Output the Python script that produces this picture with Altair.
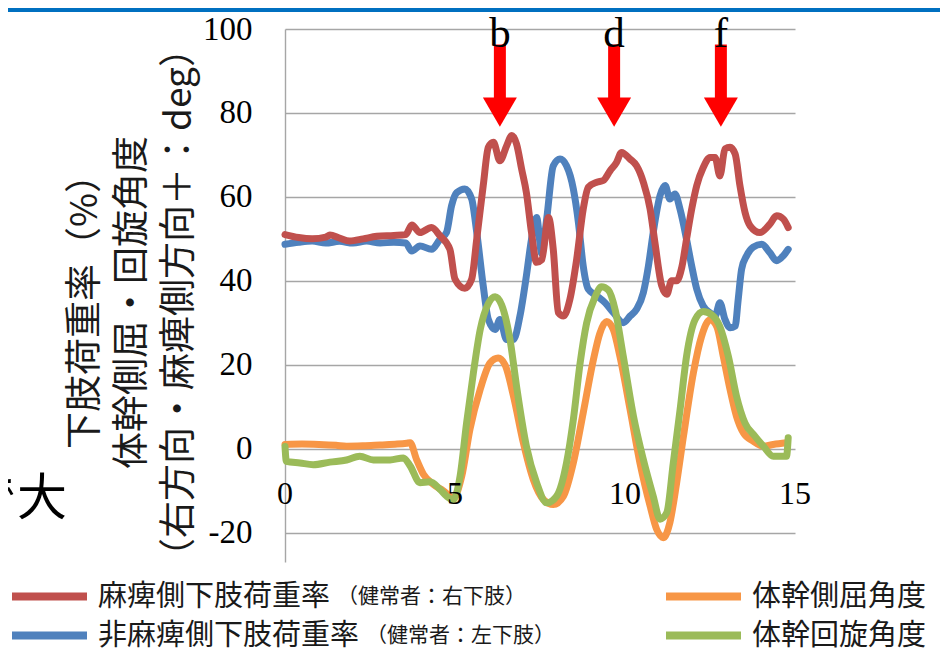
import altair as alt
import pandas as pd

# ---------------- data ----------------
red_x = [0.0, 0.4, 0.8, 1.2, 1.32, 1.6, 1.9, 2.3, 2.7, 3.2, 3.55, 3.73, 3.97, 4.31, 4.56, 4.85,
         5.0, 5.29, 5.49, 5.64, 5.83, 5.98, 6.13, 6.32, 6.52, 6.67, 6.81, 6.96, 7.1, 7.25, 7.4,
         7.55, 7.75, 7.89, 8.04, 8.19, 8.38, 8.58, 8.77, 8.92, 9.17, 9.36, 9.56, 9.75, 9.9,
         10.15, 10.34, 10.54, 10.74, 10.88, 11.08, 11.23, 11.37, 11.52, 11.67, 11.81, 11.96,
         12.11, 12.3, 12.5, 12.65, 12.79, 12.94, 13.09, 13.24, 13.38, 13.53, 13.68, 13.97,
         14.26, 14.46, 14.66, 14.8]
red_y = [51.0, 50.3, 50.0, 50.4, 50.9, 50.2, 49.5, 50.0, 50.6, 50.8, 51.0, 53.3, 51.5, 52.7, 50.7, 47.5,
         40.4, 38.2, 40.4, 50.0, 62.7, 71.8, 73.0, 68.6, 72.2, 74.6, 72.6, 66.6, 61.0, 51.5, 44.4,
         45.0, 55.1, 47.5, 32.4, 31.6, 35.6, 45.2, 57.0, 62.3, 63.5, 63.9, 66.2, 68.2, 70.6,
         69.0, 67.4, 63.5, 57.0, 49.1, 38.8, 36.8, 40.0, 40.0, 43.2, 49.9, 57.0,
         62.7, 67.0, 69.4, 69.4, 65.0, 71.4, 71.8, 70.2, 62.7, 56.3, 53.1, 51.5,
         53.5, 55.5, 54.7, 52.7]

blue_x = [0.0, 0.4, 0.8, 1.2, 1.6, 2.0, 2.4, 2.8, 3.2, 3.55, 3.73, 3.97, 4.31, 4.56, 4.75, 4.9,
          5.05, 5.29, 5.49, 5.64, 5.83, 5.98, 6.18, 6.32, 6.52, 6.72, 6.91, 7.1, 7.25, 7.4,
          7.55, 7.7, 7.89, 8.09, 8.28, 8.48, 8.63, 8.77, 8.92, 9.17, 9.41, 9.66, 9.95, 10.15,
          10.34, 10.54, 10.69, 10.83, 11.03, 11.18, 11.32, 11.47, 11.62, 11.81, 11.96, 12.11,
          12.3, 12.5, 12.65, 12.79, 12.94, 13.09, 13.24, 13.33, 13.43, 13.58, 13.77, 14.02,
          14.26, 14.46, 14.66, 14.8]
blue_y = [48.7, 49.2, 49.5, 49.0, 49.4, 49.0, 49.5, 49.0, 49.2, 49.0, 47.1, 48.3, 47.5, 49.9, 51.5, 57.9,
          61.0, 61.9, 59.5, 51.5, 38.8, 30.8, 28.4, 30.8, 26.0, 26.0, 31.6, 41.2, 49.9, 55.1,
          46.5, 55.0, 67.4, 69.0, 67.4, 61.9, 53.9, 43.6, 38.0, 36.4, 34.8, 32.4, 30.0, 31.6,
          33.2, 37.2, 43.6, 51.5, 60.3, 62.7, 59.5, 60.7, 57.0, 49.9, 43.6, 38.0,
          34.0, 32.4, 31.6, 34.8, 30.8, 28.8, 29.2, 35.6, 42.8, 46.0, 48.0, 48.7,
          46.7, 44.8, 46.0, 47.5]

orange_x = [0.0, 0.5, 1.0, 1.5, 1.81, 2.3, 2.8, 3.3, 3.58, 3.68, 3.87, 4.07, 4.36, 4.65, 4.95,
            5.2, 5.44, 5.74, 6.03, 6.27, 6.47, 6.72, 7.01, 7.3, 7.6, 7.89, 8.19, 8.48, 8.77,
            9.07, 9.26, 9.46, 9.66, 9.85, 10.15, 10.44, 10.74, 10.93, 11.13, 11.32, 11.52,
            11.72, 12.01, 12.25, 12.5, 12.7, 12.89, 13.09, 13.28, 13.48, 13.77, 14.07, 14.36, 14.75]
orange_y = [1.0, 1.1, 1.0, 0.8, 0.6, 0.7, 0.9, 1.1, 1.3, 1.4, -2.6, -6.1, -8.5, -10.0, -11.7,
            -6.5, 4.6, 14.1, 20.4, 21.6, 20.0, 12.5, 1.4, -7.3, -12.1, -13.3, -11.3, -3.4, 8.5,
            21.2, 27.5, 30.3, 28.3, 22.0, 9.3, -3.4, -13.7, -19.2, -21.2, -17.6, -8.1,
            3.0, 18.0, 26.7, 30.7, 29.1, 22.0, 14.1, 7.7, 3.8, 1.8, 0.6, 1.0, 1.4]

green_x = [0.0, 0.04, 0.44, 0.83, 1.32, 1.81, 2.2, 2.6, 3.09, 3.48, 3.68, 3.97, 4.26, 4.56, 4.75,
           4.95, 5.15, 5.34, 5.54, 5.74, 5.98, 6.18, 6.37, 6.62, 6.81, 7.1, 7.4, 7.7, 7.99,
           8.28, 8.48, 8.68, 8.87, 9.12, 9.31, 9.51, 9.71, 9.95, 10.25, 10.54, 10.83, 11.03,
           11.23, 11.42, 11.62, 11.81, 12.06, 12.3, 12.55, 12.79, 13.04, 13.28, 13.53, 13.82,
           14.07, 14.36, 14.75, 14.8]
green_y = [0.5, -3.0, -3.4, -3.8, -3.2, -2.7, -1.8, -2.7, -2.7, -2.2, -4.1, -8.1, -7.9, -9.7, -11.3,
           -12.2, -6.5, 6.1, 18.0, 28.3, 34.6, 36.2, 34.3, 25.9, 14.9, 0.6, -8.1, -12.9, -11.3,
           -3.4, 6.9, 20.4, 29.9, 36.2, 38.6, 37.8, 33.1, 22.0, 7.7, -2.6, -11.3, -16.8,
           -15.2, -3.4, 9.3, 22.0, 30.7, 32.7, 31.9, 29.1, 22.0, 12.5, 6.1, 3.0,
           0.6, -1.8, -1.8, 2.6]

series_names = ["麻痺側下肢荷重率", "非麻痺側下肢荷重率", "体幹側屈角度", "体幹回旋角度"]
series_colors = ["#C0504D", "#4F81BD", "#F79646", "#9BBB59"]
legend_notes = ["（健常者：右下肢）", "（健常者：左下肢）"]

y_ticks = [-20, 0, 20, 40, 60, 80, 100]
x_ticks = [0, 5, 10, 15]
x_tick_labels = ["0", "5", "10", "15"]

arrow_x = [6.32, 9.68, 12.82]
arrow_labels = ["b", "d", "f"]

y_title = ["下肢荷重率（%）", "体幹側屈・回旋角度", "（右方向・麻痺側方向＋：deg）"]
side_text = ["で大"]

# ---------------- tables ----------------
frames = []
for name, xs_, ys_ in zip(series_names, [red_x, blue_x, orange_x, green_x],
                          [red_y, blue_y, orange_y, green_y]):
    frames.append(pd.DataFrame({"t": xs_, "v": ys_, "series": name}))
df = pd.concat(frames, ignore_index=True)

xscale = alt.Scale(domain=[0, 15], nice=False, zero=False)
yscale = alt.Scale(domain=[-27, 100], nice=False, zero=False)

JP = "Noto Sans CJK JP"
SERIF = "Liberation Serif"

color = alt.Color(
    "series:N",
    scale=alt.Scale(domain=series_names, range=series_colors),
    legend=alt.Legend(
        orient="none", legendX=-277, legendY=551, title=None, columns=2,
        symbolType="stroke", symbolSize=5625, symbolStrokeWidth=8, symbolOpacity=1,
        labelFont=JP, labelFontSize=29, labelColor="#1a1a1a", labelOffset=7,
        labelLimit=600, columnPadding=302, rowPadding=6, clipHeight=33,
        padding=0, offset=0,
    ),
)

y_axis = alt.Axis(
    values=y_ticks, grid=True, gridColor="#A6A6A6", gridWidth=1.4,
    domainColor="#A6A6A6", domainWidth=1.4, ticks=False,
    labelFont=SERIF, labelFontSize=33, labelColor="black", labelPadding=33,
    labelOverlap=False, labelFlush=False, labelExpr="'' + datum.value",
    title=y_title, titleFont=JP, titleFontSize=37, titleFontWeight="normal",
    titleColor="#1a1a1a", titleLineHeight=47, titleAngle=270,
    titleAlign="center", titleBaseline="middle", titleX=-200, titleY=273,
)

def ydatum(v):
    return alt.YDatum(v, scale=yscale, axis=y_axis)

base = alt.Chart(df)
draw_order = [series_names[1], series_names[0], series_names[2], series_names[3]]
line_layers = []
for name in draw_order:
    line_layers.append(
        base.transform_filter(alt.datum.series == name)
        .mark_line(strokeWidth=7, strokeCap="round", strokeJoin="round", interpolate="monotone")
        .encode(
            x=alt.X("t:Q", scale=xscale, axis=None),
            y=alt.Y("v:Q", scale=yscale, axis=y_axis),
            color=color,
        )
    )

xlab_df = pd.DataFrame({"xt": x_ticks, "xl": x_tick_labels})
xlabels = alt.Chart(xlab_df).mark_text(
    font=SERIF, fontSize=32, baseline="middle", align="center", color="black"
).encode(
    x=alt.X("xt:Q", scale=xscale, axis=None),
    y=ydatum(-10.8),
    text="xl:N",
)

arr_df = pd.DataFrame({"ax": arrow_x, "lab": arrow_labels})
shafts = alt.Chart(arr_df).mark_rule(color="#FF0000", strokeWidth=12, strokeCap="butt").encode(
    x=alt.X("ax:Q", scale=xscale, axis=None),
    y=ydatum(96.3),
    y2=alt.datum(83.0),
)
heads = alt.Chart(arr_df).mark_point(
    shape="triangle-down", filled=True, size=1156, color="#FF0000", opacity=1, strokeWidth=0
).encode(
    x=alt.X("ax:Q", scale=xscale, axis=None),
    y=ydatum(80.2),
)
letters = alt.Chart(arr_df).mark_text(
    font=SERIF, fontSize=43, baseline="alphabetic", align="center", color="black"
).encode(
    x=alt.X("ax:Q", scale=xscale, axis=None),
    y=ydatum(95.7),
    text="lab:N",
)

notes_df = pd.DataFrame({"note": legend_notes, "row": [0, 1]})
note1 = alt.Chart(notes_df).transform_filter(alt.datum.row == 0).mark_text(
    font=JP, fontSize=21, align="left", baseline="middle", color="#1a1a1a"
).encode(x=alt.value(52), y=alt.value(568), text="note:N")
note2 = alt.Chart(notes_df).transform_filter(alt.datum.row == 1).mark_text(
    font=JP, fontSize=21, align="left", baseline="middle", color="#1a1a1a"
).encode(x=alt.value(81), y=alt.value(607), text="note:N")

side_df = pd.DataFrame({"s": side_text})
side = alt.Chart(side_df).mark_text(
    font=JP, fontSize=50, align="left", baseline="middle", color="black"
).encode(x=alt.value(-318), y=alt.value(471), text="s:N")

topbar = alt.Chart(side_df).mark_rule(color="#0070C0", strokeWidth=4).encode(
    x=alt.value(-277), x2=alt.value(655), y=alt.value(-19)
)

chart = alt.layer(
    *line_layers, xlabels, shafts, heads, letters, note1, note2, side, topbar
).properties(
    width=510, height=533,
    autosize=alt.AutoSizeParams(type="none"),
    padding={"left": 277, "top": 21, "right": 148, "bottom": 90},
).configure_view(strokeWidth=0)

chart.save("out.html", embed_options={"renderer": "svg", "actions": False})
